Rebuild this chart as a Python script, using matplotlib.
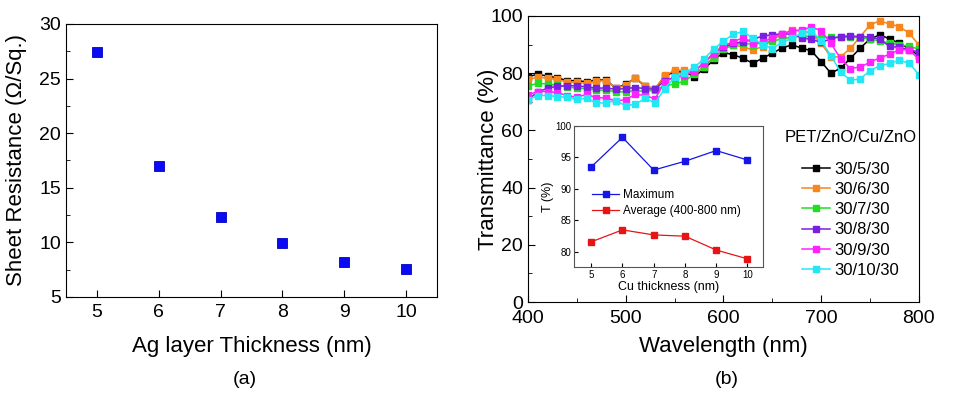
import matplotlib.pyplot as plt
from matplotlib.ticker import MultipleLocator

plt.rcParams['font.family'] = ['Liberation Sans', 'DejaVu Sans']

# (a) sheet resistance
ag_thk = [5, 6, 7, 8, 9, 10]
r_sheet = [27.4, 17.0, 12.3, 9.95, 8.2, 7.55]

# (b) transmittance spectra
wl = list(range(400, 810, 10))
t_5 = [78.8, 79.6, 79.0, 78.4, 77.4, 77.4, 77.0, 77.6, 77.6, 74.7, 76.2, 78.2, 75.5, 74.5, 79.0, 80.5, 80.5,
       78.8, 81.4, 84.6, 87.2, 86.5, 85.2, 83.5, 85.2, 87.0, 88.8, 89.9, 88.8, 87.8, 84.0, 80.0, 81.8, 85.2,
       88.8, 92.0, 93.4, 92.0, 90.5, 88.5, 86.1]
t_6 = [77.8, 78.6, 78.2, 77.8, 76.8, 76.8, 76.4, 77.2, 77.4, 74.8, 75.8, 78.4, 75.6, 74.6, 79.2, 81.0, 81.0,
       80.2, 82.0, 86.0, 90.7, 89.7, 89.3, 88.1, 89.3, 91.6, 93.5, 95.1, 94.9, 93.8, 90.5, 85.6, 85.8, 88.7,
       92.8, 96.9, 98.3, 97.2, 96.3, 94.0, 89.9]
t_7 = [75.5, 76.5, 76.2, 75.8, 75.2, 74.8, 74.6, 74.2, 74.0, 73.6, 73.4, 74.0, 73.6, 74.2, 75.6, 76.2, 77.2,
       79.6, 82.2, 85.2, 88.4, 89.8, 90.6, 90.0, 90.6, 91.2, 92.0, 92.6, 93.0, 92.8, 92.4, 92.6, 92.6, 92.6,
       92.4, 92.0, 91.2, 90.6, 90.0, 89.4, 88.4]
t_8 = [70.8, 73.4, 74.8, 75.4, 75.6, 75.6, 75.2, 74.8, 74.8, 74.4, 74.6, 75.0, 74.6, 74.4, 77.4, 78.6, 79.2,
       80.6, 83.6, 87.0, 89.0, 90.4, 91.0, 91.8, 93.0, 93.4, 93.8, 93.6, 92.4, 91.8, 90.8, 92.0, 92.8, 93.0,
       92.8, 92.6, 91.8, 89.4, 89.0, 88.2, 87.4]
t_9 = [72.4, 73.6, 73.6, 73.2, 72.2, 71.6, 72.6, 71.4, 71.4, 70.2, 70.8, 72.6, 72.2, 71.0, 77.0, 78.6, 79.2,
       80.6, 83.6, 86.8, 89.6, 91.0, 92.4, 90.6, 90.8, 92.4, 93.8, 94.8, 95.0, 96.2, 94.8, 90.4, 85.0, 81.6,
       82.2, 83.8, 85.4, 86.6, 88.2, 88.2, 84.8]
t_10 = [70.8, 72.2, 72.2, 71.8, 71.6, 71.0, 71.2, 69.6, 69.6, 70.4, 68.6, 69.2, 71.2, 69.6, 74.6, 78.6, 80.0,
        82.0, 85.0, 88.4, 91.2, 93.6, 94.6, 92.2, 90.0, 88.6, 90.8, 92.2, 94.0, 94.8, 91.4, 86.1, 80.4, 77.5,
        78.0, 80.9, 82.6, 83.4, 84.5, 83.5, 79.5]
spectra = [t_5, t_6, t_7, t_8, t_9, t_10]
labels = ['30/5/30', '30/6/30', '30/7/30', '30/8/30', '30/9/30', '30/10/30']
colors = ['#000000', '#f7861c', '#22dd22', '#7a1fe0', '#ff22ff', '#22e8f5']

# inset
cu_thk = [5, 6, 7, 8, 9, 10]
t_max = [93.5, 98.2, 93.0, 94.4, 96.1, 94.6]
t_avg = [81.6, 83.5, 82.7, 82.5, 80.3, 78.9]

W, H = 958, 398
fig = plt.figure(figsize=(W / 100, H / 100), dpi=100)

# ---- (a)
ax1 = fig.add_axes([0.0689, 0.2538, 0.3873, 0.6859])
ax1.plot(ag_thk, r_sheet, 's', color='#0a0af5', markersize=7.5, markeredgecolor='#0000c0', markeredgewidth=0.6)
ax1.set_xlim(4.5, 10.5)
ax1.set_ylim(5, 30)
ax1.set_xticks(ag_thk)
ax1.yaxis.set_major_locator(MultipleLocator(5))
ax1.yaxis.set_minor_locator(MultipleLocator(2.5))
ax1.tick_params(which='both', direction='in', labelsize=14, top=False, right=False)
ax1.tick_params(which='major', length=5)
ax1.tick_params(which='minor', length=3)
ax1.tick_params(axis='x', pad=5)
ax1.set_xlabel('Ag layer Thickness (nm)', fontsize=16, labelpad=11)
ax1.set_ylabel('Sheet Resistance (Ω/Sq.)', fontsize=16)
ax1.yaxis.set_label_coords(-0.104, 0.5)
fig.text(245 / W, 1 - 380 / H, '(a)', ha='center', va='center', fontsize=14)

# ---- (b)
ax2 = fig.add_axes([0.5511, 0.2412, 0.4081, 0.7186])
for t, lab, c in zip(spectra, labels, colors):
    ax2.plot(wl, t, '-', color=c, lw=1.1, marker='s', markersize=3.8, label=lab)
ax2.set_xlim(400, 800)
ax2.set_ylim(0, 100)
ax2.xaxis.set_major_locator(MultipleLocator(100))
ax2.xaxis.set_minor_locator(MultipleLocator(50))
ax2.yaxis.set_major_locator(MultipleLocator(20))
ax2.yaxis.set_minor_locator(MultipleLocator(10))
ax2.tick_params(which='both', direction='in', labelsize=14, top=False, right=False)
ax2.tick_params(which='major', length=5)
ax2.tick_params(which='minor', length=3)
ax2.tick_params(axis='x', pad=6)
ax2.set_xlabel('Wavelength (nm)', fontsize=16, labelpad=6)
ax2.set_ylabel('Transmittance (%)', fontsize=16)
ax2.yaxis.set_label_coords(-0.073, 0.5)
fig.text(785 / W, 1 - 138 / H, 'PET/ZnO/Cu/ZnO', ha='left', va='center', fontsize=12)
ax2.legend(loc='upper left', bbox_to_anchor=(802 / W, 1 - 162 / H), bbox_transform=fig.transFigure,
           frameon=False, fontsize=12, handlelength=1.7, handletextpad=0.25,
           labelspacing=0.31, borderpad=0, borderaxespad=0)
fig.text(727 / W, 1 - 380 / H, '(b)', ha='center', va='center', fontsize=14)

# ---- inset
ax3 = fig.add_axes([0.5992, 0.3291, 0.1973, 0.3543])
ax3.plot(cu_thk, t_max, '-s', color='#1515e6', lw=0.9, markersize=4, label='Maximum')
ax3.plot(cu_thk, t_avg, '-s', color='#e61515', lw=0.9, markersize=4, label='Average (400-800 nm)')
ax3.set_xlim(4.45, 10.5)
ax3.set_ylim(77.6, 100)
ax3.set_xticks(cu_thk)
ax3.yaxis.set_major_locator(MultipleLocator(5))
ax3.tick_params(which='both', direction='in', labelsize=7, top=False, right=False, length=3, pad=2)
for s in ax3.spines.values():
    s.set_color('#555555')
    s.set_linewidth(0.8)
ax3.set_xlabel('Cu thickness (nm)', fontsize=9, labelpad=1)
ax3.set_ylabel('T (%)', fontsize=9, labelpad=1)
ax3.legend(loc='upper left', bbox_to_anchor=(592 / W, 1 - 189 / H), bbox_transform=fig.transFigure,
           frameon=False, fontsize=8.5, handlelength=2.3, handletextpad=0.3,
           labelspacing=0.35, borderpad=0, borderaxespad=0)

fig.savefig('out.png', dpi=100)
